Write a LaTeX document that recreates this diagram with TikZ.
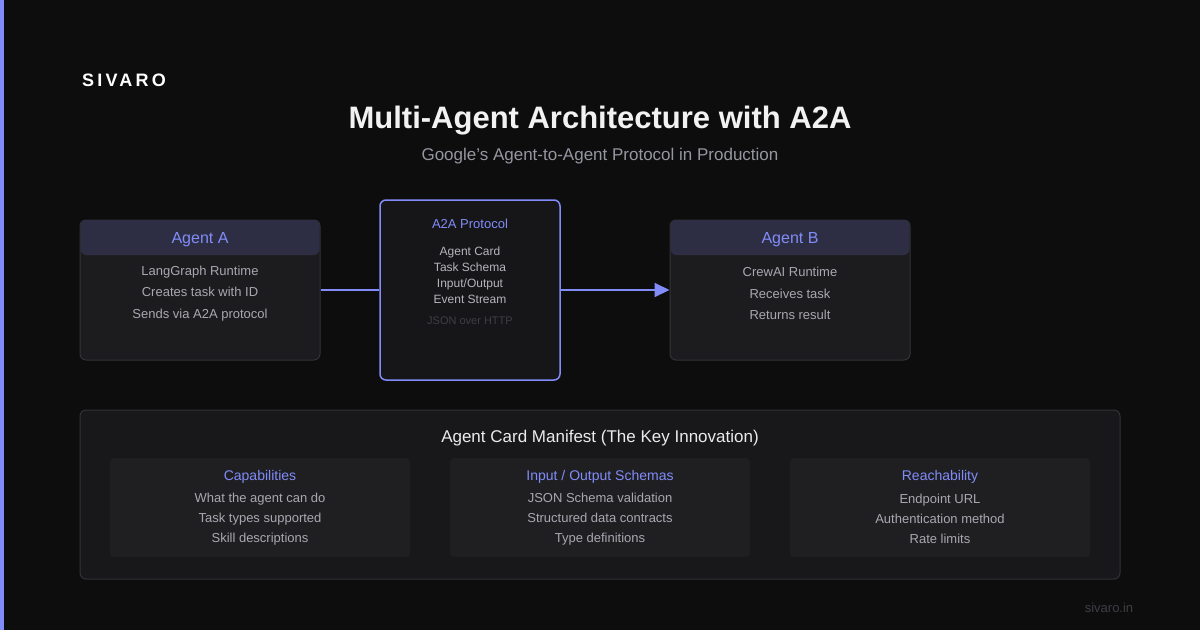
\documentclass[tikz,border=0pt]{standalone}
\usepackage{fontspec}
\setmainfont{Liberation Sans}
\usetikzlibrary{arrows.meta,positioning}
\definecolor{bgdark}{RGB}{13,13,14}
\definecolor{accent}{RGB}{129,140,248}
\definecolor{cardfill}{RGB}{28,28,31}
\definecolor{cardline}{RGB}{50,50,56}
\definecolor{headfill}{RGB}{45,46,68}
\definecolor{protofill}{RGB}{22,22,25}
\definecolor{manfill}{RGB}{24,24,27}
\definecolor{cellfill}{RGB}{31,31,34}
\definecolor{bodygray}{RGB}{168,168,176}
\definecolor{subgray}{RGB}{150,150,160}
\definecolor{faint}{RGB}{62,62,68}

\begin{document}
\begin{tikzpicture}[x=1pt,y=-1pt,
    card/.style={draw=cardline,fill=cardfill,rounded corners=6pt,line width=1pt,
                 minimum width=240pt,minimum height=140pt,inner sep=0pt},
    head/.style={fill=headfill,rounded corners=6pt,minimum width=239pt,minimum height=35pt,
                 inner sep=0pt,text=accent,font=\fontsize{16}{19}\selectfont},
    body/.style={align=center,text=bodygray,inner sep=0pt,font=\fontsize{13}{21.5}\selectfont},
    cell/.style={fill=cellfill,rounded corners=4pt,minimum width=300pt,minimum height=99pt,inner sep=0pt},
    celltitle/.style={text=accent,inner sep=0pt,font=\fontsize{14}{16}\selectfont},
    link/.style={accent,line width=2pt}]
  \fill[bgdark] (0,0) rectangle (1200,630);
  \fill[accent] (0,0) rectangle (4,630);
  \node[text=white,inner sep=0pt,font=\fontsize{18}{20}\selectfont\bfseries\addfontfeature{LetterSpace=18}] (brand) at (124,80) {SIVARO};
  \node[text=white!95!black,inner sep=0pt,font=\fontsize{31}{34}\selectfont\bfseries] (title) at (600,121) {Multi-Agent Architecture with A2A};
  \node[text=subgray,inner sep=0pt,font=\fontsize{17}{19}\selectfont] (subtitle) at (600,156) {Google's Agent-to-Agent Protocol in Production};

  % agents and protocol
  \node[card] (a) at (200,290) {};
  \node[head] (ahead) at (200,237.5) {};
  \node[text=accent,inner sep=0pt,font=\fontsize{16}{19}\selectfont] (aname) at (200,240) {Agent A};
  \node[body] (abody) at (200,293.5) {LangGraph Runtime\\Creates task with ID\\Sends via A2A protocol};

  \node[card,fill=protofill,draw=accent,line width=1.5pt,minimum width=180pt,minimum height=180pt] (proto) at (470,290) {};
  \node[celltitle,font=\fontsize{13}{15}\selectfont] (ptitle) at (470,224) {A2A Protocol};
  \node[body,text=bodygray!85!white,font=\fontsize{12}{16}\selectfont] (pbody) at (470,275) {Agent Card\\Task Schema\\Input/Output\\Event Stream};
  \node[text=faint,inner sep=0pt,font=\fontsize{11}{13}\selectfont] (pwire) at (470,321) {JSON over HTTP};

  \node[card] (b) at (790,290) {};
  \node[head] (bhead) at (790,237.5) {};
  \node[text=accent,inner sep=0pt,font=\fontsize{16}{19}\selectfont] (bname) at (790,240) {Agent B};
  \node[body] (bbody) at (790,293.5) {CrewAI Runtime\\Receives task\\Returns result};

  \draw[link] (a.east) -- (proto.west);
  \draw[link,-{Triangle[length=15pt,width=14pt]}] (proto.east) -- (b.west);

  % manifest
  \node[card,fill=manfill,minimum width=1040pt,minimum height=169pt] (man) at (600,494.5) {};
  \node[text=white!92!black,inner sep=0pt,font=\fontsize{17}{20}\selectfont] (mtitle) at (600,438) {Agent Card Manifest (The Key Innovation)};
  \node[cell] (c1) at (260,507.5) {};
  \node[cell] (c2) at (600,507.5) {};
  \node[cell] (c3) at (940,507.5) {};
  \node[celltitle] (c1t) at (260,477) {Capabilities};
  \node[celltitle] (c2t) at (600,477) {Input / Output Schemas};
  \node[celltitle] (c3t) at (940,477) {Reachability};
  \node[body,font=\fontsize{13}{20}\selectfont] (c1b) at (260,519) {What the agent can do\\Task types supported\\Skill descriptions};
  \node[body,font=\fontsize{13}{20}\selectfont] (c2b) at (600,519) {JSON Schema validation\\Structured data contracts\\Type definitions};
  \node[body,font=\fontsize{13}{20}\selectfont] (c3b) at (940,519) {Endpoint URL\\Authentication method\\Rate limits};

  \node[text=faint,inner sep=0pt,font=\fontsize{13}{15}\selectfont] (site) at (1109,608) {sivaro.in};
\end{tikzpicture}
\end{document}
